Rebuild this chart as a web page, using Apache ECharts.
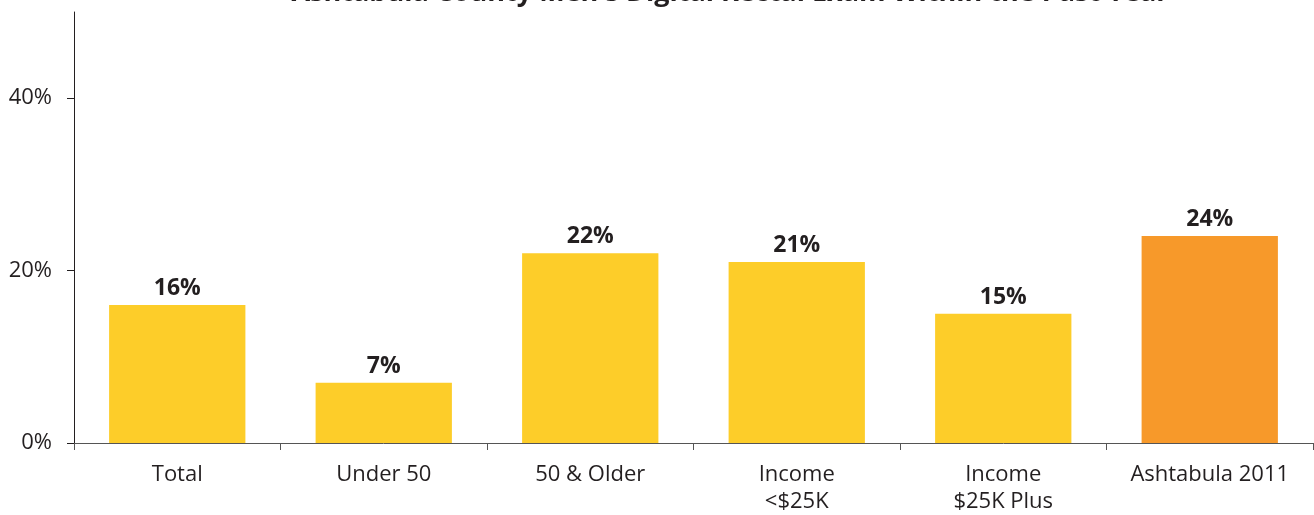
<!DOCTYPE html>
<html>
<head>
<meta charset="utf-8">
<script src="https://cdn.jsdelivr.net/npm/echarts@6/dist/echarts.min.js"></script>
<style>
  html, body { margin: 0; padding: 0; background: #fff; }
  #chart { width: 1314px; height: 515px; }
</style>
</head>
<body>
<div id="chart"></div>
<script>
const titleText = "Ashtabula County Men's Digital Rectal Exam Within the Past Year";
const categories = ['Total', 'Under 50', '50 & Older', 'Income\n<$25K', 'Income\n$25K Plus', 'Ashtabula 2011'];
const values = [16, 7, 22, 21, 15, 24];
const barColors = ['#FDCD29', '#FDCD29', '#FDCD29', '#FDCD29', '#FDCD29', '#F7992A'];
const yTicks = [0, 20, 40];

const font = '"Open Sans", "Noto Sans", sans-serif';
const chart = echarts.init(document.getElementById('chart'), null, { renderer: 'canvas' });

chart.setOption({
  animation: false,
  title: {
    text: titleText,
    left: 725,
    textAlign: 'center',
    top: -25,
    textStyle: { fontFamily: font, fontWeight: 'bold', fontSize: 27, color: '#231F20' }
  },
  grid: { left: 74, right: 1, top: 12, bottom: 69, containLabel: false },
  xAxis: {
    type: 'category',
    data: categories,
    axisLine: { lineStyle: { color: '#555', width: 1 } },
    axisTick: { show: true, length: 7, lineStyle: { color: '#555' } },
    axisLabel: {
      fontFamily: font, fontSize: 22, color: '#231F20', margin: 18, lineHeight: 27
    }
  },
  yAxis: {
    type: 'value',
    min: 0,
    max: 50,
    interval: 10,
    splitLine: { show: false },
    axisLine: { show: true, lineStyle: { color: '#231F20', width: 1 } },
    axisTick: { show: true, length: 7, customValues: yTicks, lineStyle: { color: '#231F20' } },
    axisLabel: {
      customValues: yTicks,
      fontFamily: font, fontSize: 22, color: '#231F20', margin: 22,
      formatter: v => v + '%'
    }
  },
  series: [{
    type: 'bar',
    data: values.map((v, i) => ({ value: v, itemStyle: { color: barColors[i] } })),
    barCategoryGap: '34%',
    label: {
      show: true,
      position: 'top',
      distance: 5,
      fontFamily: font,
      fontWeight: 'bold',
      fontSize: 23,
      color: '#231F20',
      formatter: p => p.value + '%'
    }
  }]
});
</script>
</body>
</html>
